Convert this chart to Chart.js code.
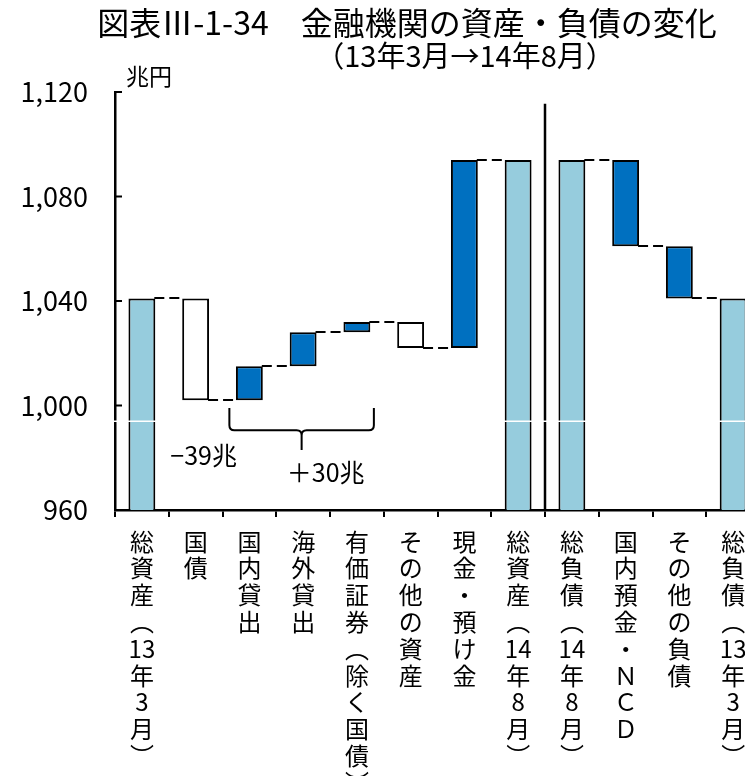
<!DOCTYPE html>
<html lang="ja">
<head>
<meta charset="utf-8">
<title>金融機関の資産・負債の変化</title>
<script src="https://cdn.jsdelivr.net/npm/chart.js@4.4.1/dist/chart.umd.min.js"></script>
<style>
  html, body { margin: 0; padding: 0; background: #fff; overflow: hidden; }
  #wrap { width: 745px; height: 776px; overflow: hidden; position: relative; }
  canvas { display: block; }
</style>
</head>
<body>
<div id="wrap"><canvas id="c" width="790" height="776"></canvas></div>
<script>
// ---- data (兆円) ----
const categories = [
  ['総','資','産','︵','13','年','3','月','︶'],
  ['国','債'],
  ['国','内','貸','出'],
  ['海','外','貸','出'],
  ['有','価','証','券','︵','除','く','国','債','︶'],
  ['そ','の','他','の','資','産'],
  ['現','金','・','預','け','金'],
  ['総','資','産','︵','14','年','8','月','︶'],
  ['総','負','債','︵','14','年','8','月','︶'],
  ['国','内','預','金','・','Ｎ','Ｃ','Ｄ'],
  ['そ','の','他','の','負','債'],
  ['総','負','債','︵','13','年','3','月','︶']
];
const periods = ['13年3月', '14年8月'];
const totalAssets = [1041, 1094];        // 13年3月, 14年8月
const totalLiabilities = [1041, 1094];   // 13年3月, 14年8月
const assetChanges = [-39, 13, 13, 4, -10, 72];   // 国債 … 現金・預け金
const liabilityChanges = [33, 20];               // 国内預金・NCD, その他の負債
const yTickValues = [960, 1000, 1040, 1080, 1120];
const yTickLabels = ['960', '1,000', '1,040', '1,080', '1,120'];
const noteGovBonds = '−39兆';
const noteLoansSecurities = '＋30兆';

// ---- colours ----
const TOTAL_FILL = '#96CCDD';
const UP_FILL = '#0070C0';
const DOWN_FILL = '#FFFFFF';

// ---- build waterfall ----
const bars = [], fills = [], links = [];
bars.push([0, totalAssets[0]]); fills.push(TOTAL_FILL);
let level = totalAssets[0];
links.push(level);
assetChanges.forEach(ch => {
  bars.push([level, level + ch]);
  fills.push(ch >= 0 ? UP_FILL : DOWN_FILL);
  level += ch;
  links.push(level);
});
bars.push([0, totalAssets[1]]); fills.push(TOTAL_FILL);
links.push(null);                       // no link across the divider
bars.push([0, totalLiabilities[1]]); fills.push(TOTAL_FILL);
level = totalLiabilities[1];
links.push(level);
liabilityChanges.forEach(ch => {
  bars.push([level - ch, level]);
  fills.push(ch >= 0 ? UP_FILL : DOWN_FILL);
  level -= ch;
  links.push(level);
});
bars.push([0, totalLiabilities[0]]); fills.push(TOTAL_FILL);

const FONT = '"Noto Sans CJK JP", "Noto Sans", sans-serif';

const decor = {
  id: 'decor',
  beforeDatasetsDraw(chart) {
    const ctx = chart.ctx, y = chart.scales.y;
    const meta = chart.getDatasetMeta(0).data;
    ctx.save();
    ctx.strokeStyle = '#000';
    ctx.lineWidth = 2;
    ctx.setLineDash([10, 5]);
    links.forEach((v, i) => {
      if (v === null || i + 1 >= meta.length) return;
      const a = meta[i], b = meta[i + 1];
      const py = Math.round(y.getPixelForValue(v));
      ctx.beginPath();
      ctx.moveTo(a.x + a.width / 2 - 1, py);
      ctx.lineTo(b.x - b.width / 2 + 1, py);
      ctx.stroke();
    });
    ctx.restore();
  },
  afterDraw(chart) {
    const ctx = chart.ctx, y = chart.scales.y;
    const area = chart.chartArea;
    const meta = chart.getDatasetMeta(0).data;
    ctx.save();

    // inward ticks on the value axis
    ctx.strokeStyle = '#000';
    ctx.lineWidth = 2;
    yTickValues.forEach(v => {
      const py = y.getPixelForValue(v);
      ctx.beginPath();
      ctx.moveTo(area.left, py);
      ctx.lineTo(area.left + 7, py);
      ctx.stroke();
    });

    // divider between assets and liabilities
    const dx = (meta[7].x + meta[8].x) / 2;
    ctx.lineWidth = 2.5;
    ctx.beginPath();
    ctx.moveTo(dx, y.getPixelForValue(1115.5));
    ctx.lineTo(dx, area.bottom);
    ctx.stroke();

    // axis break mark
    ctx.strokeStyle = '#fff';
    ctx.lineWidth = 1.5;
    const by = y.getPixelForValue(994);
    ctx.beginPath();
    ctx.moveTo(area.left - 4, by);
    ctx.lineTo(area.right, by);
    ctx.stroke();

    // brace under 国内貸出 … 有価証券
    const bl = meta[2].x - 20, br = meta[4].x + 17, bc = (bl + br) / 2;
    const t = y.getPixelForValue(999), m = y.getPixelForValue(990.5), p = y.getPixelForValue(983);
    ctx.strokeStyle = '#000';
    ctx.lineWidth = 2;
    ctx.beginPath();
    ctx.moveTo(bl, t);
    ctx.lineTo(bl, m - 5);
    ctx.quadraticCurveTo(bl, m, bl + 5, m);
    ctx.lineTo(bc - 5, m);
    ctx.quadraticCurveTo(bc, m, bc, m + 5);
    ctx.lineTo(bc, p);
    ctx.moveTo(bc, m + 5);
    ctx.quadraticCurveTo(bc, m, bc + 5, m);
    ctx.lineTo(br - 5, m);
    ctx.quadraticCurveTo(br, m, br, m - 5);
    ctx.lineTo(br, t);
    ctx.stroke();

    // texts
    ctx.fillStyle = '#000';
    ctx.textBaseline = 'middle';
    ctx.textAlign = 'center';
    ctx.font = '25px ' + FONT;
    ctx.fillText(noteGovBonds, meta[1].x + 8, y.getPixelForValue(980.7));
    ctx.fillText(noteLoansSecurities, bc + 24, y.getPixelForValue(974.5));

    ctx.textAlign = 'left';
    ctx.font = '23px ' + FONT;
    ctx.fillText('兆円', 126, 76);

    ctx.textAlign = 'center';
    ctx.font = '32px ' + FONT;
    ctx.fillText('図表Ⅲ-1-34　金融機関の資産・負債の変化', 407, 23);
    ctx.font = '29px ' + FONT;
    ctx.fillText('（' + periods[0] + '→' + periods[1] + '）', 465, 56);
    ctx.restore();
  }
};

new Chart(document.getElementById('c'), {
  type: 'bar',
  data: {
    labels: categories,
    datasets: [{
      data: bars,
      backgroundColor: fills,
      borderColor: '#000',
      borderWidth: 2,
      borderSkipped: false,
      categoryPercentage: 1,
      barPercentage: 0.5
    }]
  },
  options: {
    responsive: false,
    animation: false,
    devicePixelRatio: 1,
    layout: { padding: { left: 0, right: 30, top: 92, bottom: 0 } },
    plugins: { legend: { display: false }, tooltip: { enabled: false } },
    scales: {
      x: {
        offset: true,
        grid: { display: true, drawOnChartArea: false, drawTicks: true, tickLength: 7, color: '#000', lineWidth: 2, offset: true },
        border: { display: true, color: '#000', width: 2.5 },
        ticks: {
          autoSkip: false, maxRotation: 0, minRotation: 0, padding: 11,
          color: '#000', font: { family: FONT, size: 24, lineHeight: '26.8px' }
        },
        afterFit(s) { s.height = 266; }
      },
      y: {
        min: 960, max: 1120,
        afterBuildTicks(s) { s.ticks = yTickValues.map(v => ({ value: v })); },
        grid: { display: true, drawOnChartArea: false, drawTicks: false },
        border: { display: true, color: '#000', width: 2.5 },
        ticks: {
          padding: 27, color: '#000',
          font: { family: FONT, size: 27 },
          callback: (v) => yTickLabels[yTickValues.indexOf(v)]
        },
        afterFit(s) { s.width = 115; }
      }
    }
  },
  plugins: [decor]
});
</script>
</body>
</html>
